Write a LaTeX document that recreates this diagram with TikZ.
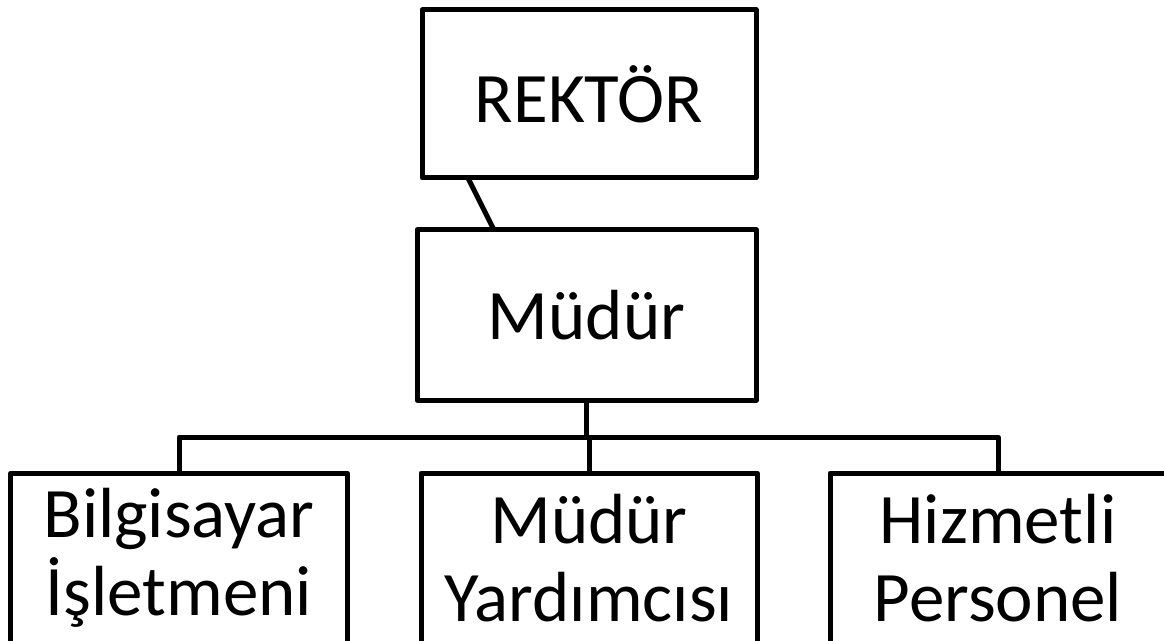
\documentclass[tikz,border=0pt]{standalone}
\usepackage{fontspec}
\setmainfont{Carlito}
\begin{document}
\begin{tikzpicture}[x=1bp,y=-1bp,
  box/.style={draw=black,line width=5bp,rectangle,inner sep=0pt,outer sep=0pt,
    minimum width=#1,align=center,font=\fontsize{71bp}{78bp}\selectfont,
    line join=round,text=black},
  conn/.style={draw=black,line width=5bp,line join=round}]
\useasboundingbox (0,0) rectangle (1164,641);
\clip (0,0) rectangle (1164,641);
\fill[white] (0,0) rectangle (1164,641);
\node[box=334bp,minimum height=168bp] (rek) at (589,94) {REKTÖR};
\node[box=339bp,minimum height=170bp] (mud) at (586.5,315) {Müdür};
\node[box=336bp,minimum height=170bp] (b1) at (179,558) {Bilgisayar\\İşletmeni};
\node[box=336bp,minimum height=170bp] (b2) at (589,558) {Müdür\\Yardımcısı};
\node[box=336bp,minimum height=170bp] (b3) at (998,558) {Hizmetli\\Personel};
\coordinate (bus) at (586.5,437);
\draw[conn] ([xshift=46bp]rek.south west) -- ([xshift=77bp]mud.north west);
\draw[conn] (mud.south) -- (bus);
\draw[conn] (b1.north) |- (bus) -| (b3.north);
\draw[conn] (bus -| b2.north) -- (b2.north);
\end{tikzpicture}
\end{document}
